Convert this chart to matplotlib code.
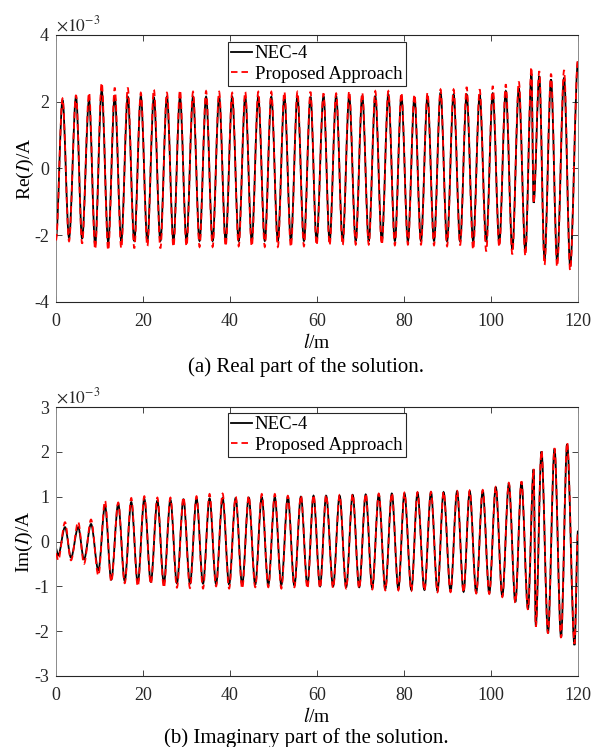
import matplotlib
matplotlib.use("Agg")
import matplotlib.pyplot as plt
from matplotlib.path import Path
from matplotlib.patches import PathPatch
from matplotlib.lines import Line2D

plt.rcParams['font.family'] = ['Liberation Serif', 'DejaVu Serif']
plt.rcParams['mathtext.fontset'] = 'stix'
plt.rcParams['axes.unicode_minus'] = False

# ---------------- data (extrema, units 1e-3 A) ----------------
re_x = [
    0.0, 1.5, 3.0, 4.6, 6.0, 7.6, 9.0, 10.5, 12.0, 13.5,
    15.0, 16.5, 18.0, 19.5, 21.0, 22.5, 24.0, 25.5, 27.0, 28.5,
    30.0, 31.5, 33.0, 34.5, 36.0, 37.5, 39.0, 40.5, 42.0, 43.5,
    45.0, 46.5, 48.0, 49.5, 51.0, 52.5, 54.0, 55.5, 57.0, 58.5,
    59.9, 61.5, 62.9, 64.4, 65.9, 67.4, 68.9, 70.4, 71.9, 73.4,
    74.9, 76.4, 77.9, 79.4, 80.9, 82.4, 83.9, 85.4, 86.9, 88.4,
    89.9, 91.4, 92.9, 94.4, 95.9, 97.4, 98.9, 100.4, 101.9, 103.4,
    104.9, 106.4, 107.9, 109.3, 109.8, 111.1, 112.3, 113.8, 115.2, 116.8,
    118.2, 120.0]
re_nec = [
    -2.05, 2.05, -2.08, 2.15, -2.10, 2.05, -2.27, 2.34, -2.20, 2.17,
    -2.17, 2.15, -2.17, 2.17, -2.17, 2.13, -2.17, 2.15, -2.17, 2.13,
    -2.17, 2.15, -2.17, 2.15, -2.17, 2.15, -2.17, 2.15, -2.17, 2.15,
    -2.17, 2.15, -2.17, 2.15, -2.17, 2.15, -2.17, 2.17, -2.17, 2.15,
    -2.18, 2.17, -2.18, 2.17, -2.18, 2.17, -2.17, 2.17, -2.17, 2.17,
    -2.17, 2.22, -2.17, 2.17, -2.18, 2.13, -2.17, 2.17, -2.17, 2.27,
    -2.18, 2.22, -2.18, 2.22, -2.18, 2.20, -2.18, 2.25, -2.23, 2.32,
    -2.42, 2.40, -2.47, 2.84, -1.03, 2.77, -2.72, 2.67, -2.77, 2.72,
    -2.92, 3.20]
re_prop = [
    -2.15, 2.10, -2.18, 2.20, -2.25, 2.27, -2.42, 2.57, -2.45, 2.42,
    -2.39, 2.42, -2.39, 2.27, -2.33, 2.37, -2.39, 2.27, -2.35, 2.35,
    -2.33, 2.30, -2.35, 2.32, -2.35, 2.30, -2.33, 2.27, -2.33, 2.30,
    -2.33, 2.30, -2.35, 2.30, -2.35, 2.30, -2.35, 2.30, -2.33, 2.30,
    -2.30, 2.25, -2.30, 2.25, -2.30, 2.32, -2.28, 2.27, -2.28, 2.32,
    -2.28, 2.32, -2.30, 2.27, -2.28, 2.22, -2.28, 2.27, -2.30, 2.37,
    -2.33, 2.37, -2.30, 2.44, -2.43, 2.37, -2.48, 2.47, -2.35, 2.52,
    -2.57, 2.60, -2.62, 3.04, -1.05, 2.92, -2.89, 2.84, -2.94, 2.95,
    -3.05, 3.30]

im_x = [
    0.0, 0.5, 2.07, 3.45, 5.1, 6.44, 8.05, 9.74, 11.27, 12.7,
    14.3, 15.8, 17.3, 18.8, 20.3, 21.8, 23.3, 24.8, 26.3, 27.8,
    29.3, 30.8, 32.3, 33.8, 35.3, 36.8, 38.3, 39.8, 41.3, 42.8,
    44.3, 45.8, 47.3, 48.8, 50.3, 51.8, 53.3, 54.8, 56.3, 57.8,
    59.2, 60.7, 62.1, 63.7, 65.2, 66.7, 68.2, 69.7, 71.2, 72.7,
    74.2, 75.7, 77.2, 78.7, 80.1, 81.7, 83.1, 84.7, 86.2, 87.7,
    89.1, 90.7, 92.2, 93.7, 95.1, 96.6, 98.1, 99.6, 101.1, 102.6,
    104.1, 105.6, 107.0, 108.5, 109.8, 110.3, 111.6, 113.1, 114.6, 116.1,
    117.5, 119.2, 120.0]
im_nec = [
    -0.16, -0.31, 0.32, -0.36, 0.32, -0.40, 0.39, -0.64, 0.80, -0.85,
    0.84, -0.88, 0.88, -0.92, 0.95, -0.90, 0.91, -0.93, 0.93, -0.93,
    0.94, -0.94, 0.96, -0.94, 0.96, -0.95, 0.97, -0.96, 0.97, -0.96,
    0.98, -0.96, 0.99, -0.97, 0.99, -0.97, 1.00, -0.98, 1.00, -0.98,
    1.02, -1.00, 1.02, -1.00, 1.02, -1.02, 1.04, -1.02, 1.05, -1.04,
    1.05, -1.06, 1.07, -1.06, 1.07, -1.08, 1.09, -1.08, 1.10, -1.10,
    1.10, -1.11, 1.12, -1.12, 1.12, -1.14, 1.13, -1.15, 1.21, -1.22,
    1.29, -1.35, 1.32, -1.50, 1.61, -1.88, 2.01, -2.04, 2.06, -2.13,
    2.17, -2.31, 0.24]
im_prop = [
    -0.27, -0.42, 0.43, -0.42, 0.44, -0.50, 0.49, -0.76, 0.91, -0.90,
    0.87, -0.93, 0.97, -1.00, 1.01, -0.95, 0.98, -1.03, 0.98, -1.03,
    0.99, -1.04, 1.01, -1.05, 1.06, -1.00, 1.07, -1.05, 1.00, -1.05,
    1.02, -1.02, 1.06, -1.02, 1.06, -1.05, 1.02, -1.02, 1.03, -1.05,
    1.04, -1.04, 1.04, -1.04, 1.04, -1.05, 1.06, -1.05, 1.07, -1.07,
    1.07, -1.09, 1.08, -1.09, 1.09, -1.10, 1.10, -1.10, 1.11, -1.13,
    1.11, -1.13, 1.13, -1.14, 1.14, -1.16, 1.15, -1.17, 1.22, -1.24,
    1.31, -1.37, 1.34, -1.52, 1.62, -1.90, 2.03, -2.05, 2.08, -2.15,
    2.21, -2.28, 0.25]

series_names = ['NEC-4', 'Proposed Approach']
x_ticks = [0, 20, 40, 60, 80, 100, 120]
re_ticks = [-4, -2, 0, 2, 4]
im_ticks = [-3, -2, -1, 0, 1, 2, 3]
captions = ['(a) Real part of the solution.', '(b) Imaginary part of the solution.']
ylabels = [r'Re($I$)/A', r'Im($I$)/A']

# ---------------- drawing ----------------
def smooth_path(xs, ys):
    verts = [(xs[0], ys[0])]
    codes = [Path.MOVETO]
    for i in range(len(xs) - 1):
        x0, y0, x1, y1 = xs[i], ys[i], xs[i + 1], ys[i + 1]
        d = (x1 - x0) / 3.0
        verts += [(x0 + d, y0), (x1 - d, y1), (x1, y1)]
        codes += [Path.CURVE4] * 3
    return Path(verts, codes)

fig = plt.figure(figsize=(5.93, 7.47), dpi=100)
ax1 = fig.add_axes([56 / 593, 1 - 302 / 747, 522 / 593, 267 / 747])
ax2 = fig.add_axes([56 / 593, 1 - 676 / 747, 522 / 593, 269 / 747])

black_kw = dict(color='black', lw=1.3)
red_kw = dict(color='#ff0000', lw=1.3, dashes=(3.6, 2.2))

panels = [
    (ax1, re_x, re_nec, re_prop, (-4, 4), re_ticks),
    (ax2, im_x, im_nec, im_prop, (-3, 3), im_ticks),
]
for k, (ax, xs, yb, yr, ylim, yt) in enumerate(panels):
    ax.add_patch(PathPatch(smooth_path(xs, yb), facecolor='none', edgecolor='black',
                           lw=1.3, zorder=2))
    ax.add_patch(PathPatch(smooth_path(xs, yr), facecolor='none', edgecolor='#ff0000',
                           lw=1.3, linestyle=(0, (3.6, 2.2)), zorder=3))
    ax.set_xlim(0, 120)
    ax.set_ylim(*ylim)
    ax.set_xticks(x_ticks)
    ax.set_yticks(yt)
    ax.tick_params(direction='in', top=True, right=True, length=4, width=0.6,
                   labelsize=13, colors='#262626')
    ax.tick_params(axis='x', pad=8)
    ax.tick_params(axis='y', pad=5)
    for s in ['left', 'right']:
        ax.spines[s].set_color('#8a8a8a')
        ax.spines[s].set_linewidth(0.7)
    for s in ['top', 'bottom']:
        ax.spines[s].set_color('#262626')
        ax.spines[s].set_linewidth(0.8)
    ax.set_ylabel(ylabels[k], fontsize=14, labelpad=-1)
    ax.set_xlabel(r'$l$/m', fontsize=14, labelpad=2)
    ax.text(0.0, 1.0, r'$\times 10^{-3}$', transform=ax.transAxes,
            fontsize=12.5, ha='left', va='bottom', color='#262626')
    handles = [Line2D([], [], **black_kw), Line2D([], [], **red_kw)]
    top = 0.974 if k == 0 else 0.978
    leg = ax.legend(handles, series_names, loc='upper left',
                    bbox_to_anchor=(0.3295, top), borderaxespad=0,
                    fontsize=13.5, frameon=True, fancybox=False,
                    handlelength=1.1, handletextpad=0.15, borderpad=0.18,
                    labelspacing=0.18, framealpha=1)
    leg.get_frame().set_edgecolor('#262626')
    leg.get_frame().set_linewidth(0.8)

fig.text(306 / 593, 1 - 367 / 747, captions[0], ha='center', va='center', fontsize=15)
fig.text(306 / 593, 1 - 738 / 747, captions[1], ha='center', va='center', fontsize=15)

fig.savefig('out.png', dpi=100)
